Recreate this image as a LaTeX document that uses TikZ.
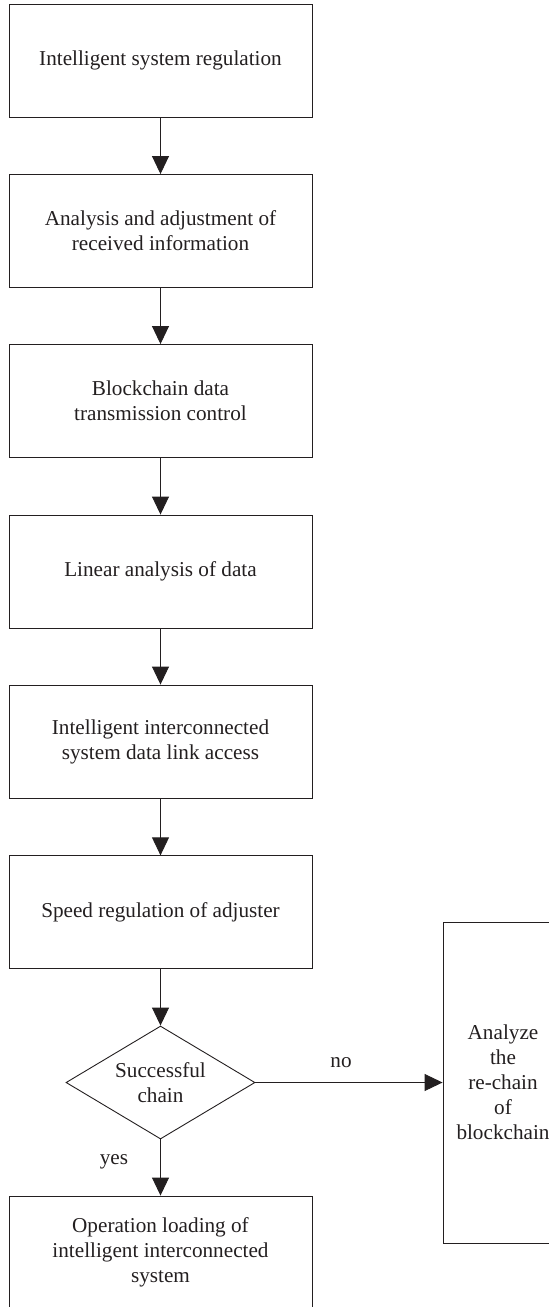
\documentclass[tikz,border=0pt]{standalone}
\usepackage{fontspec}
\setmainfont{Liberation Serif}
\usetikzlibrary{arrows.meta,shapes.geometric}
\definecolor{ink}{HTML}{231F20}
\begin{document}
\begin{tikzpicture}[x=1pt,y=-1pt,
  every node/.style={text=ink,font=\fontsize{21.2}{25}\selectfont},
  box/.style={draw=ink,line width=0.9pt,minimum width=303pt,minimum height=113pt,inner sep=0pt,align=center},
  dec/.style={draw=ink,line width=0.9pt,diamond,aspect=1.67,minimum width=189pt,minimum height=113pt,inner sep=0pt,align=center},
  arr/.style={draw=ink,line width=0.9pt,-{Triangle[length=18pt,width=17pt]}},
  lbl/.style={inner sep=0pt}]
\useasboundingbox (0,0) rectangle (549,1307);
\clip (0,0) rectangle (549,1307);
\node[box] (b1) at (160.5,60.5) {Intelligent system regulation};
\node[box] (b2) at (160.5,231) {Analysis and adjustment of\\received information};
\node[box] (b3) at (160.5,401) {Blockchain data\\transmission control};
\node[box] (b4) at (160.5,571.5) {Linear analysis of data};
\node[box] (b5) at (160.5,741.5) {Intelligent interconnected\\system data link access};
\node[box] (b6) at (160.5,912.3) {Speed regulation of adjuster};
\node[dec] (d) at (160.5,1082.5) {Successful\\chain};
\node[box] (b7) at (160.5,1252.5) {Operation loading of\\intelligent interconnected\\system};
\node[box,minimum width=120pt,minimum height=321pt] (r) at (503,1082.5) {Analyze\\the\\re-chain\\of\\blockchain};
\draw[arr] (b1) -- (b2);
\draw[arr] (b2) -- (b3);
\draw[arr] (b3) -- (b4);
\draw[arr] (b4) -- (b5);
\draw[arr] (b5) -- (b6);
\draw[arr] (b6) -- (d);
\draw[arr] (d) -- (b7);
\draw[arr] (d.east) -- (r.west);
\node[lbl] (no) at (341,1063) {no};
\node[lbl] (yes) at (114,1162) {yes};
\end{tikzpicture}
\end{document}
